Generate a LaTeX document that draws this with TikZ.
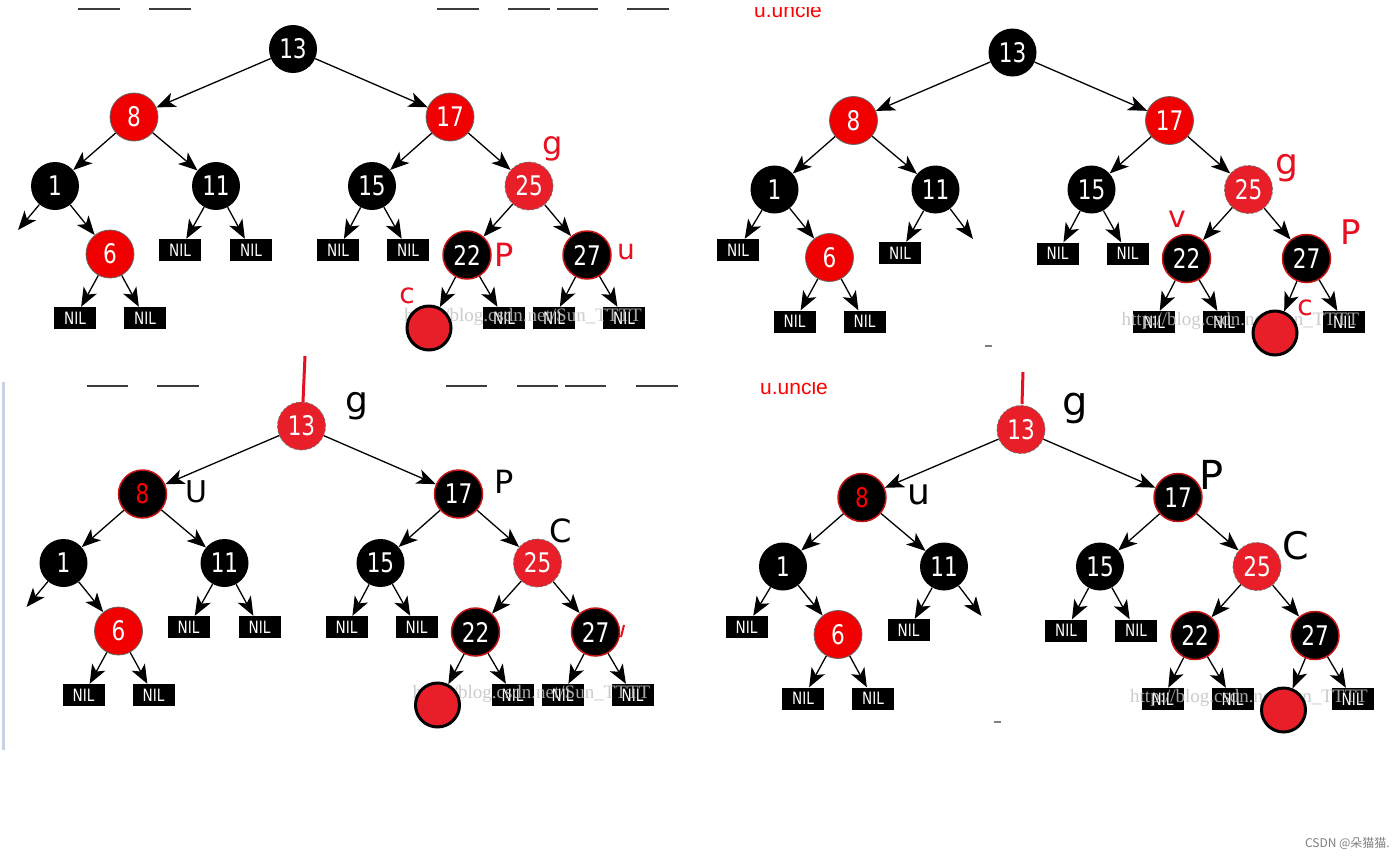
\documentclass[tikz,border=0pt]{standalone}
\usepackage{fontspec}
\usetikzlibrary{arrows.meta}
\newfontfamily\nodefont[FakeStretch=0.8]{DejaVu Sans}
\newfontfamily\handfont{DejaVu Sans}
\newfontfamily\wmfont{Liberation Serif}
\newfontfamily\uifont{Liberation Sans}
\newfontfamily\cjkfont{Noto Sans CJK SC}
\definecolor{brightred}{RGB}{240,0,0}
\definecolor{midred}{RGB}{232,30,40}
\definecolor{edgered}{RGB}{200,20,20}
\definecolor{handred}{RGB}{232,16,32}
\definecolor{wmgray}{RGB}{195,195,195}
\definecolor{sidebar}{RGB}{200,210,228}
\definecolor{topline}{RGB}{60,60,60}

\newcommand\treenodes[4]{%
  \node[#2] (#1r) at (293,49) {13};
  \node[#3] (#1a) at (134,117) {8};
  \node[#4] (#1b) at (450,117) {17};
  \node[blk] (#1c) at (55,186) {1};
  \node[blk] (#1d) at (216,186) {11};
  \node[blk] (#1e) at (372,186) {15};
  \node[mred] (#1f) at (529,186) {25};
  \node[redn] (#1g) at (110,254) {6};
  \node[bred] (#1h) at (467,255) {22};
  \node[bred] (#1i) at (587,255) {27};
  \node[nil] (#1n3) at (338,250) {NIL};
  \node[nil] (#1n4) at (408,250) {NIL};
  \node[nil] (#1n5) at (75,318) {NIL};
  \node[nil] (#1n6) at (145,318) {NIL};
}
\newcommand\treeA[4]{%
  \treenodes{#1}{#2}{#3}{#4}
  \coordinate (#1x) at (18,230);
  \node[nil] (#1n1) at (180,250) {NIL};
  \node[nil] (#1n2) at (251,250) {NIL};
  \node[nil] (#1n7) at (504,318) {NIL};
  \node[nil] (#1n8) at (554,318) {NIL};
  \node[nil] (#1n9) at (624,318) {NIL};
  \node[wm] (#1w) at (404,317) {http://blog.csdn.net/Sun\_TTTT};
  \node[cn] (#1z) at (429,328) {};
  \draw[arr] (#1r) -- (#1a);
  \draw[arr] (#1r) -- (#1b);
  \draw[arr] (#1a) -- (#1c);
  \draw[arr] (#1a) -- (#1d);
  \draw[arr] (#1b) -- (#1e);
  \draw[arr] (#1b) -- (#1f);
  \draw[arr] (#1c) -- (#1x);
  \draw[arr] (#1c) -- (#1g);
  \draw[arr] (#1d) -- (#1n1);
  \draw[arr] (#1d) -- (#1n2);
  \draw[arr] (#1e) -- (#1n3);
  \draw[arr] (#1e) -- (#1n4);
  \draw[arr] (#1f) -- (#1h);
  \draw[arr] (#1f) -- (#1i);
  \draw[arr] (#1g) -- (#1n5);
  \draw[arr] (#1g) -- (#1n6);
  \draw[arr] (#1h) -- (#1z);
  \draw[arr] (#1h) -- (#1n7);
  \draw[arr] (#1i) -- (#1n8);
  \draw[arr] (#1i) -- (#1n9);
}
\newcommand\treeB[4]{%
  \treenodes{#1}{#2}{#3}{#4}
  \node[nil] (#1n0) at (18.5,246.5) {NIL};
  \node[nil] (#1n1) at (180.5,249.5) {NIL};
  \coordinate (#1x) at (253.5,235.5);
  \node[nil] (#1n7) at (434.5,318.5) {NIL};
  \node[nil] (#1n8) at (504.5,318.5) {NIL};
  \node[nil] (#1n9) at (624.5,318.5) {NIL};
  \node[wm] (#1w) at (402,317) {http://blog.csdn.net/Sun\_TTTT};
  \node[cn] (#1z) at (555.5,329.5) {};
  \draw[arr] (#1r) -- (#1a);
  \draw[arr] (#1r) -- (#1b);
  \draw[arr] (#1a) -- (#1c);
  \draw[arr] (#1a) -- (#1d);
  \draw[arr] (#1b) -- (#1e);
  \draw[arr] (#1b) -- (#1f);
  \draw[arr] (#1c) -- (#1n0);
  \draw[arr] (#1c) -- (#1g);
  \draw[arr] (#1d) -- (#1n1);
  \draw[arr] (#1d) -- (#1x);
  \draw[arr] (#1e) -- (#1n3);
  \draw[arr] (#1e) -- (#1n4);
  \draw[arr] (#1f) -- (#1h);
  \draw[arr] (#1f) -- (#1i);
  \draw[arr] (#1g) -- (#1n5);
  \draw[arr] (#1g) -- (#1n6);
  \draw[arr] (#1h) -- (#1n7);
  \draw[arr] (#1h) -- (#1n8);
  \draw[arr] (#1i) -- (#1z);
  \draw[arr] (#1i) -- (#1n9);
}

\begin{document}
\begin{tikzpicture}[x=1pt,y=-1pt,
  rb/.style={circle, minimum size=48pt, inner sep=0pt, font=\nodefont\fontsize{27}{27}\selectfont, text=white},
  blk/.style={rb, fill=black},
  redn/.style={rb, fill=brightred, draw=black!60, line width=0.8pt},
  mred/.style={rb, fill=midred, draw=black!55, line width=0.8pt, densely dashed},
  bred/.style={rb, fill=black, draw=edgered, line width=1.5pt},
  bredR/.style={bred, text=red},
  nil/.style={rectangle, fill=black, minimum width=42pt, minimum height=22pt, inner sep=0pt, text=white, font=\nodefont\fontsize{17}{17}\selectfont},
  cn/.style={circle, fill=midred, draw=black, line width=3pt, minimum size=44pt, inner sep=0pt},
  wm/.style={anchor=west, inner sep=0pt, font=\wmfont\fontsize{19}{19}\selectfont, text=wmgray, opacity=0.85},
  arr/.style={black, line width=1.3pt, -{Stealth[length=19pt,width=15pt,inset=5pt]}},
  hand/.style={inner sep=0pt, font=\handfont\fontsize{#1}{#1}\selectfont},
  tline/.style={topline, line width=1.4pt},
]
\useasboundingbox[fill=white] (0,0) rectangle (1400,855);

% ---------- panel 1 ----------
\foreach \a/\b in {78/120,149/191,437/479,508/550,557/598,627/669}
  \draw[tline] (\a,9) -- (\b,9);
\begin{scope}
  \treeA{p}{blk}{redn}{redn}
\end{scope}
\node[hand=32, text=handred] (l1g) at (553,149) {g};
\node[hand=32, text=handred] (l1p) at (504,255) {P};
\node[hand=28, text=handred] (l1u) at (626,252) {u};
\node[hand=28, text=handred] (l1c) at (407,296) {c};

% ---------- panel 2 ----------
\begin{scope}
  \clip (740,7) rectangle (850,30);
  \node[anchor=base west, inner sep=0pt, text=red, font=\uifont\fontsize{21}{21}\selectfont] (un1) at (754,17) {u.uncle};
\end{scope}
\begin{scope}[shift={(719.5,3.5)}]
  \treeB{q}{blk}{redn}{redn}
\end{scope}
\draw[gray, line width=1.5pt] (985,346) -- (992,346);
\node[hand=36, text=handred] (l2g) at (1287,168) {g};
\node[hand=30, text=handred] (l2v) at (1177,219) {v};
\node[hand=34, text=handred] (l2p) at (1351,232) {P};
\node[hand=28, text=handred] (l2c) at (1305,308) {c};

% ---------- panel 3 ----------
\draw[sidebar, line width=3pt] (3,382) -- (3,750);
\foreach \a/\b in {87/128,157/199,446/487,517/558,565/606,636/678}
  \draw[tline] (\a,386) -- (\b,386);
\begin{scope}[shift={(8.5,377)}]
  \treeA{s}{mred}{bredR}{bred}
\end{scope}
\draw[handred, line width=3pt] (305,356) -- (303,402);
\draw[handred, line width=2pt] (624,625) -- (621,637);
\node[hand=36] (l3g) at (357,406) {g};
\node[hand=30] (l3u) at (196,492) {U};
\node[hand=32] (l3p) at (504,482) {P};
\node[hand=32] (l3c) at (561,531) {C};

% ---------- panel 4 ----------
\begin{scope}
  \clip (745,382) rectangle (850,400);
  \node[anchor=base west, inner sep=0pt, text=red, font=\uifont\fontsize{21}{21}\selectfont] (un2) at (760,394) {u.uncle};
\end{scope}
\begin{scope}[shift={(728,380.5)}]
  \treeB{t}{mred}{bredR}{bred}
\end{scope}
\draw[handred, line width=3pt] (1023,372) -- (1022,404);
\draw[gray, line width=1.5pt] (994,722) -- (1001,722);
\node[hand=40] (l4g) at (1075,408) {g};
\node[hand=36] (l4u) at (919,495) {u};
\node[hand=40] (l4p) at (1212,475) {P};
\node[hand=38] (l4c) at (1296,546) {C};

% ---------- footer ----------
\node[anchor=east, inner sep=0pt, text=gray, font=\cjkfont\fontsize{12}{12}\selectfont] (csdn) at (1390,843) {CSDN @朵猫猫.};
\end{tikzpicture}
\end{document}
